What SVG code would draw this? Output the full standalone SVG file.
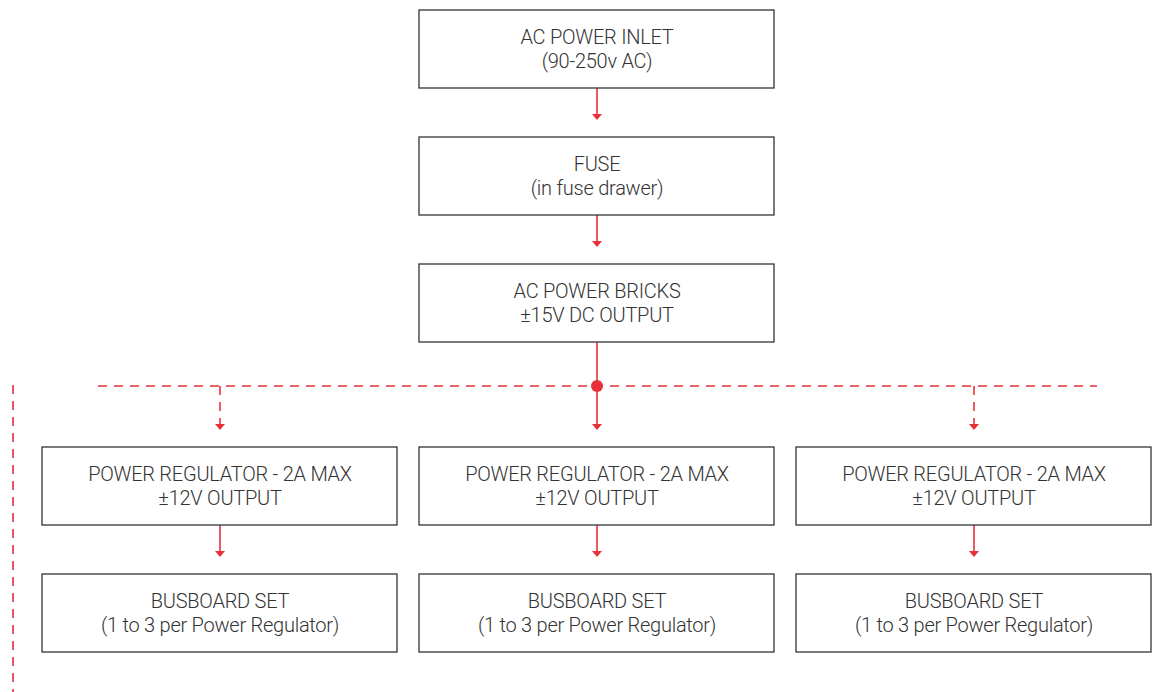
<svg xmlns="http://www.w3.org/2000/svg" width="1171" height="692" viewBox="0 0 1171 692">
<style>
.box{fill:#fff;stroke:#333;stroke-width:1.3}
.t{font-family:Roboto,"Liberation Sans",sans-serif;font-weight:300;font-size:20px;letter-spacing:-0.25px;fill:#333;text-anchor:middle}
.c{stroke:#e8303a;stroke-width:1.6;fill:none}
.d{stroke-dasharray:9 7}
.ah{fill:#e8303a}
</style>
<defs>
<path id="ah" d="M-5,-6 L5,-6 L0,0 Z" class="ah"/>
</defs>
<rect width="1171" height="692" fill="#fff"/>
<g id="connectors">
<line class="c" x1="597" y1="88" x2="597" y2="115"/><use href="#ah" x="597" y="120"/>
<line class="c" x1="597" y1="215" x2="597" y2="242"/><use href="#ah" x="597" y="247"/>
<line class="c" x1="597" y1="342" x2="597" y2="425"/><use href="#ah" x="597" y="430"/>
<line class="c d" x1="98" y1="386" x2="1097" y2="386"/>
<circle cx="597" cy="386" r="6" fill="#e8303a"/>
<line class="c d" x1="220" y1="386" x2="220" y2="425"/><use href="#ah" x="220" y="430"/>
<line class="c d" x1="974" y1="386" x2="974" y2="425"/><use href="#ah" x="974" y="430"/>
<line class="c d" x1="13" y1="385" x2="13" y2="692"/>
<line class="c" x1="220" y1="525" x2="220" y2="552"/><use href="#ah" x="220" y="557"/>
<line class="c" x1="597" y1="525" x2="597" y2="552"/><use href="#ah" x="597" y="557"/>
<line class="c" x1="974" y1="525" x2="974" y2="552"/><use href="#ah" x="974" y="557"/>
</g>
<g id="inlet"><rect class="box" x="419" y="10" width="355" height="78"/><text class="t" x="597" y="44">AC POWER INLET</text><text class="t" x="597" y="68">(90-250v AC)</text></g>
<g id="fuse"><rect class="box" x="419" y="137" width="355" height="78"/><text class="t" x="597" y="171">FUSE</text><text class="t" x="597" y="195">(in fuse drawer)</text></g>
<g id="bricks"><rect class="box" x="419" y="264" width="355" height="78"/><text class="t" x="597" y="298">AC POWER BRICKS</text><text class="t" x="597" y="322">±15V DC OUTPUT</text></g>
<g id="reg1"><rect class="box" x="42" y="447" width="355" height="78"/><text class="t" x="220" y="481">POWER REGULATOR - 2A MAX</text><text class="t" x="220" y="505">±12V OUTPUT</text></g>
<g id="reg2"><rect class="box" x="419" y="447" width="355" height="78"/><text class="t" x="597" y="481">POWER REGULATOR - 2A MAX</text><text class="t" x="597" y="505">±12V OUTPUT</text></g>
<g id="reg3"><rect class="box" x="796" y="447" width="355" height="78"/><text class="t" x="974" y="481">POWER REGULATOR - 2A MAX</text><text class="t" x="974" y="505">±12V OUTPUT</text></g>
<g id="bus1"><rect class="box" x="42" y="574" width="355" height="78"/><text class="t" x="220" y="608">BUSBOARD SET</text><text class="t" x="220" y="632">(1 to 3 per Power Regulator)</text></g>
<g id="bus2"><rect class="box" x="419" y="574" width="355" height="78"/><text class="t" x="597" y="608">BUSBOARD SET</text><text class="t" x="597" y="632">(1 to 3 per Power Regulator)</text></g>
<g id="bus3"><rect class="box" x="796" y="574" width="355" height="78"/><text class="t" x="974" y="608">BUSBOARD SET</text><text class="t" x="974" y="632">(1 to 3 per Power Regulator)</text></g>
</svg>
